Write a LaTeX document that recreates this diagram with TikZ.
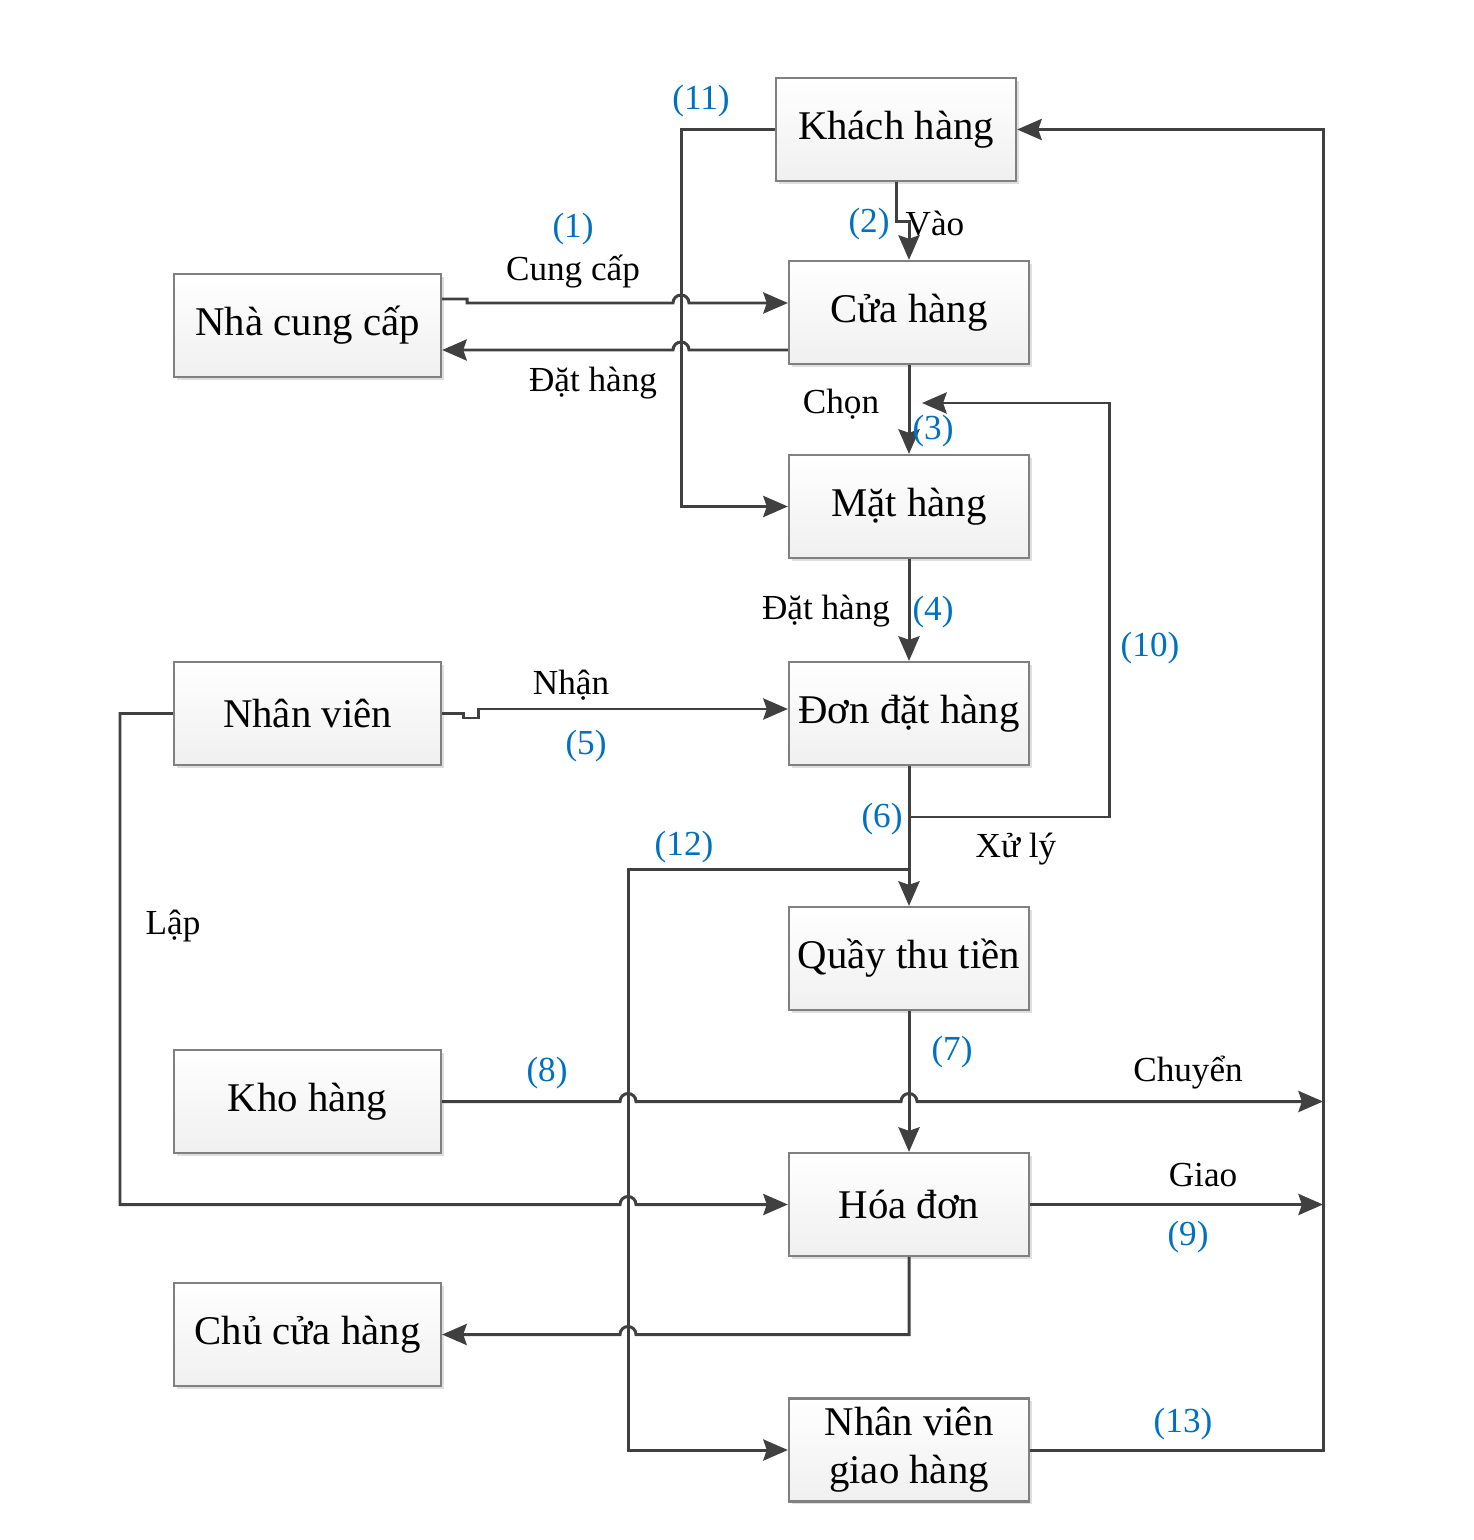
\documentclass[tikz,border=0pt]{standalone}
\usepackage{fontspec}
\setmainfont{Liberation Serif}
\usetikzlibrary{arrows.meta, shadows}
\definecolor{numblue}{RGB}{0,112,192}
\definecolor{linegray}{RGB}{64,64,64}
\tikzstyle{box} = [rectangle, draw=gray, line width=0.6pt, top color=white, bottom color=gray!12, minimum width=2.4cm, minimum height=1.03cm, inner sep=1pt, text centered, align=center, font=\fontsize{11.6}{13.6}\selectfont, drop shadow={shadow xshift=0.8pt, shadow yshift=-0.8pt, opacity=0.25, fill=gray}]
\tikzstyle{wbox} = [box, minimum width=2.67cm]
\tikzstyle{line} = [draw=linegray, line width=0.85pt, -{Stealth[length=7pt, width=6pt, inset=1pt]}]
\tikzstyle{lbl} = [inner sep=0pt, yshift=-0.6pt, font=\fontsize{10}{12}\selectfont]
\tikzstyle{num} = [lbl, text=numblue]

\begin{document}
\begin{tikzpicture}[x=0.01cm, y=-0.01cm]
    \useasboundingbox (0,0) rectangle (1473,1540);

    % right column
    \node[box] (kh)   at (896,129.5)  {Khách hàng};
    \node[box] (ch)   at (909,312.5)  {Cửa hàng};
    \node[box] (mh)   at (909,506.5)  {Mặt hàng};
    \node[box] (ddh)  at (909,713.5)  {Đơn đặt hàng};
    \node[box] (qtt)  at (909,958.5)  {Quầy thu tiền};
    \node[box] (hd)   at (909,1204.5) {Hóa đơn};
    \node[box] (nvgh) at (909,1450)   {Nhân viên\\giao hàng};

    % left column
    \node[wbox] (ncc) at (307.5,325.5)  {Nhà cung cấp};
    \node[wbox] (nv)  at (307.5,713.5)  {Nhân viên};
    \node[wbox] (kho) at (307.5,1101.5) {Kho hàng};
    \node[wbox] (chu) at (307.5,1334.5) {Chủ cửa hàng};

    \coordinate (j6)  at (909,817);
    \coordinate (j12) at (909,869);
    \coordinate (c3)  at (922,403);
    \coordinate (e8)  at (1323,1101.5);
    \coordinate (e9)  at (1323,1204.5);

    \path[line] (ncc.east |- 0,299) -- (467,299) -- (467,303) -- (673,303) arc[start angle=180, end angle=0, radius=0.08cm] -- (ch.west |- 0,303);
    \path[line] (ch.west |- 0,350) -- (689,350) arc[start angle=0, end angle=180, radius=0.08cm] -- (ncc.east |- 0,350);
    \path[line] (kh.south) -- (896,222) -- (909,222) -- (ch.north);
    \path[line] (kh.west) -- (681,129.5) -- (681,506.5) -- (mh.west);
    \path[line] (ch.south) -- (mh.north);
    \path[line] (mh.south) -- (ddh.north);
    \path[line] (nv.east) -- (463,713.5) -- (463,718) -- (478,718) -- (478,709) -- (ddh.west |- 0,709);
    \path[line] (ddh.south) -- (qtt.north);
    \path[line] (j6) -- (1109,817) -- (1109,403) -- (c3);
    \path[line] (j12) -- (628,869) -- (628,1450) -- (nvgh.west);
    \path[line] (qtt.south) -- (hd.north);
    \path[line] (kho.east) -- (620,1101.5) arc[start angle=180, end angle=0, radius=0.08cm] -- (901,1101.5) arc[start angle=180, end angle=0, radius=0.08cm] -- (e8);
    \path[line] (nv.west) -- (120,713.5) -- (120,1204.5) -- (620,1204.5) arc[start angle=180, end angle=0, radius=0.08cm] -- (hd.west);
    \path[line] (hd.east) -- (e9);
    \path[line] (hd.south) -- (909,1334.5) -- (636,1334.5) arc[start angle=0, end angle=180, radius=0.08cm] -- (chu.east);
    \path[line] (nvgh.east) -- (1323,1450) -- (1323,129.5) -- (kh.east);

    % labels
    \node[num] (n11) at (701,99)   {(11)};
    \node[num] (n1)  at (573,227)  {(1)};
    \node[lbl] (t1)  at (573,269)  {Cung cấp};
    \node[lbl] (t1b) at (593,381)  {Đặt hàng};
    \node[num] (n2)  at (869,222)  {(2)};
    \node[lbl] (t2)  at (935,221)  {Vào};
    \node[lbl] (t3)  at (841,402)  {Chọn};
    \node[num] (n3)  at (933,429)  {(3)};
    \node[lbl] (t4)  at (826,609)  {Đặt hàng};
    \node[num] (n4)  at (933,610)  {(4)};
    \node[lbl] (t5)  at (571,683)  {Nhận};
    \node[num] (n5)  at (586,744)  {(5)};
    \node[num] (n10) at (1150,646) {(10)};
    \node[num] (n6)  at (882,817)  {(6)};
    \node[lbl] (t6)  at (1016,847) {Xử lý};
    \node[num] (n12) at (684,845)  {(12)};
    \node[lbl] (tl)  at (173,924)  {Lập};
    \node[num] (n7)  at (952,1050) {(7)};
    \node[num] (n8)  at (547,1071) {(8)};
    \node[lbl] (t8)  at (1188,1070) {Chuyển};
    \node[lbl] (t9)  at (1203,1173) {Giao};
    \node[num] (n9)  at (1188,1235) {(9)};
    \node[num] (n13) at (1183,1422) {(13)};
\end{tikzpicture}
\end{document}
